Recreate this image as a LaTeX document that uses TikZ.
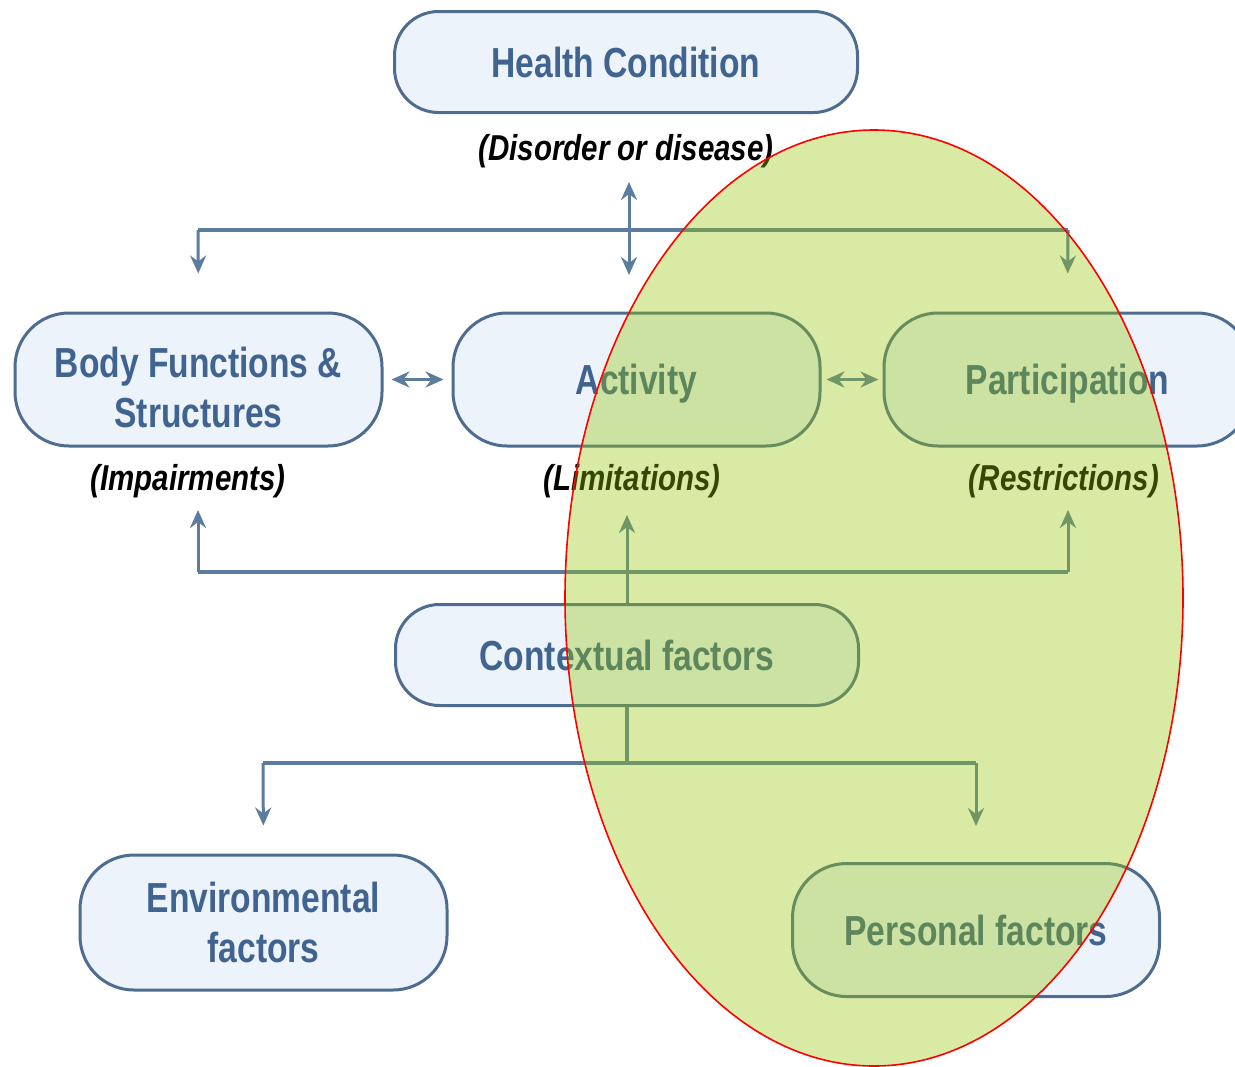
\documentclass[tikz,border=0pt]{standalone}
\usepackage{fontspec}
\newfontfamily\lab[FakeStretch=0.8]{Liberation Sans}
\newfontfamily\labi[FakeStretch=0.82]{Liberation Sans}
\usetikzlibrary{arrows.meta}
\definecolor{boxfill}{RGB}{236,243,251}
\definecolor{boxline}{RGB}{78,108,143}
\definecolor{boxtext}{RGB}{64,99,143}
\definecolor{conn}{RGB}{92,124,158}
\definecolor{overlay}{RGB}{149,197,5}
\begin{document}
\begin{tikzpicture}[x=0.5pt,y=-0.5pt,
  pill/.style={draw=boxline, line width=1.5pt, fill=boxfill, text=boxtext,
    font=\lab\bfseries\fontsize{21pt}{25pt}\selectfont, align=center, inner sep=0pt},
  shortpill/.style={pill, rounded corners=22pt, minimum width=231.5pt, minimum height=50.5pt},
  tallpill/.style={pill, rounded corners=27pt, minimum width=183.5pt, minimum height=66.5pt},
  note/.style={font=\labi\bfseries\itshape\fontsize{18pt}{21pt}\selectfont, text=black, inner sep=0pt},
  bar/.style={draw=conn, line width=2.2pt},
  tip/.tip={Stealth[length=9pt,width=8pt,inset=3pt]},
  arr/.style={draw=conn, line width=1.5pt, -tip},
  darr/.style={draw=conn, line width=1.5pt, tip-tip}]
\useasboundingbox (0,0) rectangle (1235,1066);

% nodes
\node[shortpill] (hc) at (626,62) {Health Condition};
\node[note] (dis) at (626,151) {(Disorder or disease)};

\node[tallpill] (body) at (198.5,379.5) {\rule{0pt}{23pt}Body Functions \&\\Structures};
\node[tallpill, text depth=0pt] (act) at (636.5,379.5) {Activity};
\node[tallpill, text depth=0pt] (part) at (1067.5,379.5) {Participation};

\node[note] (imp) at (188,481) {(Impairments)};
\node[note] (lim) at (632,481) {(Limitations)};
\node[note] (res) at (1064,481) {(Restrictions)};

\node[shortpill] (ctx) at (627,655) {Contextual factors};

\node[tallpill, minimum height=67.5pt] (env) at (263.5,922.5) {Environmental\\factors};
\node[tallpill] (pers) at (976,930) {Personal factors};

% top connectors
\coordinate (tl) at (198,230);
\coordinate (tr) at (1068,230);
\coordinate (vt) at (629,182);
\coordinate (vb) at (629,275);
\draw[bar] (tl) -- (tr);
\draw[arr, shorten >=19pt] (tl) -- (body.north);
\draw[arr, shorten >=19pt] (tr) -- (part.north);
\draw[darr] (vt) -- (vb);

% side arrows
\draw[darr, shorten <=4pt, shorten >=4pt] (body.east) -- (act.west);
\draw[darr, shorten <=2.5pt, shorten >=2pt] (act.east) -- (part.west);

% bottom connectors
\coordinate (bl) at (198,572);
\coordinate (br) at (1068,572);
\coordinate (bla) at (198,510);
\coordinate (bra) at (1068,510);
\coordinate (ca) at (629,515);
\draw[bar] (bl) -- (br);
\draw[arr] (bl) -- (bla);
\draw[arr] (br) -- (bra);
\draw[arr] (ctx.north) -- (ctx.north |- ca);

% contextual split
\coordinate (el) at (263,763);
\coordinate (er) at (976,763);
\draw[bar] (ctx.south) -- (ctx.south |- el);
\draw[bar] (el) -- (er);
\draw[arr, shorten >=14pt] (el) -- (env.north);
\draw[arr, shorten >=18pt] (er) -- (pers.north);

% overlay ellipse
\draw[red, line width=0.8pt, fill=overlay, fill opacity=0.36] (874,598) ellipse [x radius=154.5pt, y radius=234pt];
\end{tikzpicture}
\end{document}
